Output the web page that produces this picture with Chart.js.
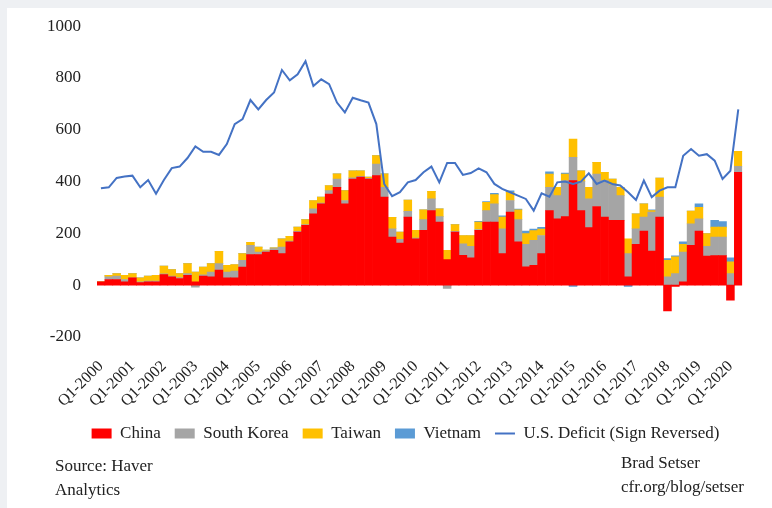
<!DOCTYPE html>
<html lang="en">
<head>
  <meta charset="UTF-8">
  <title>trade balance</title>
  <script src="https://cdn.jsdelivr.net/npm/chart.js"></script>
  <style>
    body { margin: 0; background: #eef0f3; }
    #card { position: absolute; left: 7px; top: 8px; right: 0; bottom: 0; background: #fff; }
    #chart { position: absolute; left: 0; top: 0; }
    .note { position: absolute; font: 17px "Liberation Serif", serif; line-height: 24px; color: #222; }
  </style>
</head>
<body>
  <div id="card"></div>
  <canvas id="chart" width="772" height="508"></canvas>
  <div class="note" style="left:55px; top:454px">Source: Haver<br>Analytics</div>
  <div class="note" style="left:621px; top:451px">Brad Setser<br>cfr.org/blog/setser</div>

  <script>
    const years = []
    for (let y = 2000; y <= 2020; y++) years.push(y)
    const quarters = []
    years.forEach(y => [1, 2, 3, 4].forEach(q => quarters.push(`Q${q}-${y}`)))
    quarters.length = 82 // through Q2-2020

    const yTicks = [-200, 0, 200, 400, 600, 800, 1000]

    const china = [
      13, 22, 22, 13, 28, 10, 13, 13, 41, 32, 26, 38, 13, 35, 32, 58, 28, 28, 70, 118,
      118, 128, 135, 122, 167, 205, 231, 276, 314, 352, 378, 314, 410, 417, 410, 423, 340, 186, 163, 263,
      179, 212, 288, 244, 99, 205, 115, 106, 212, 244, 244, 122, 282, 167, 71, 77, 122, 288, 256, 265,
      404, 288, 222, 304, 263, 250, 250, 32, 158, 209, 132, 263, -99, -5, 13, 154, 209, 112, 114, 114,
      -58, 436
    ]
    const southKorea = [
      0, 10, 13, 9, 0, 3, 3, 3, 3, 3, 3, 7, -8, 5, 19, 25, 23, 27, 26, 36,
      10, 5, 6, 25, 3, 3, 3, 19, 3, 13, 32, 13, 5, 3, 3, 45, 38, 32, 14, 22,
      3, 41, 45, 21, -12, 3, 45, 44, 3, 44, 70, 96, 45, 86, 87, 96, 70, 90, 90, 139,
      90, 112, 111, 125, 141, 138, 96, 90, 60, 54, 150, 77, 32, 45, 115, 83, 47, 38, 72, 72,
      45, 23
    ]
    const taiwan = [
      2, 6, 10, 16, 17, 15, 19, 22, 30, 25, 16, 38, 38, 30, 32, 48, 26, 25, 26, 12,
      19, 3, 3, 32, 19, 16, 19, 32, 23, 20, 20, 38, 27, 22, 4, 32, 52, 44, 28, 44,
      30, 38, 29, 30, 36, 26, 32, 42, 29, 32, 36, 45, 32, 38, 41, 38, 25, 51, 32, 25,
      70, 42, 45, 45, 32, 22, 32, 57, 58, 51, 6, 74, 64, 65, 30, 49, 45, 49, 38, 38,
      45, 58
    ]
    const vietnam = [
      0, 0, 0, 0, 0, 0, 0, 0, 0, 0, 0, 0, 0, 0, 0, 0, 0, 0, 0, 0,
      0, 0, 0, 0, 0, 0, 0, 0, 0, 0, 0, 0, 0, 0, 0, 0, 0, 0, 0, 0,
      0, 0, 0, 0, 0, 0, 0, 0, 3, 3, 5, 5, 5, 3, 10, 6, 6, 9, 0, 4,
      -5, 0, 0, 0, 0, 0, 0, -5, 0, 0, 3, 0, 7, 3, 9, 0, 13, 0, 26, 22,
      16, 0
    ]
    const usDeficit = [
      374, 378, 414, 420, 423, 378, 406, 353, 406, 452, 458, 491, 536, 515, 515, 503, 545, 622, 641, 715,
      679, 715, 744, 831, 791, 814, 865, 769, 795, 776, 705, 667, 724, 714, 705, 622, 391, 344, 359, 397,
      406, 436, 458, 397, 472, 472, 426, 433, 451, 436, 391, 372, 359, 346, 333, 288, 355, 342, 397, 400,
      391, 400, 432, 391, 404, 391, 385, 359, 329, 404, 340, 365, 378, 378, 500, 526, 500, 506, 481, 410,
      442, 679
    ]

    const serif = '"Liberation Serif", serif'
    const bar = (label, data, color) => ({
      type: 'bar', label, data, backgroundColor: color, borderWidth: 0,
      barPercentage: 1, categoryPercentage: 1, stack: 'exports', order: 1
    })

    // the original legend sits right of centre, nudge it over
    const shiftLegend = {
      id: 'shiftLegend',
      afterLayout(chart) { chart.legend.left += 62 }
    }

    new Chart(document.getElementById('chart'), {
      data: {
        labels: quarters,
        datasets: [
          bar('China', china, '#ff0000'),
          bar('South Korea', southKorea, '#a5a5a5'),
          bar('Taiwan', taiwan, '#ffc000'),
          bar('Vietnam', vietnam, '#5b9bd5'),
          {
            type: 'line', label: 'U.S. Deficit (Sign Reversed)', data: usDeficit,
            borderColor: '#4472c4', backgroundColor: '#4472c4', borderWidth: 2,
            pointRadius: 0, tension: 0, fill: false, stack: 'deficit', order: 0
          }
        ]
      },
      plugins: [shiftLegend],
      options: {
        responsive: false,
        animation: false,
        layout: { padding: { top: 25, right: 23, bottom: 56, left: 0 } },
        scales: {
          x: {
            stacked: true,
            grid: { display: false, drawTicks: false },
            border: { display: false },
            ticks: {
              autoSkip: false, minRotation: 45, maxRotation: 45, padding: 20,
              font: { family: serif, size: 16 }, color: '#222',
              callback: (v, i) => i % 4 === 0 ? quarters[i] : ''
            },
            afterFit: s => { s.height = 74 }
          },
          y: {
            stacked: true,
            min: yTicks[0], max: yTicks[yTicks.length - 1],
            afterBuildTicks: s => { s.ticks = yTicks.map(v => ({ value: v })) },
            grid: { display: false, drawTicks: false },
            border: { display: false },
            ticks: {
              padding: 16, font: { family: serif, size: 17 }, color: '#222',
              callback: v => String(v)
            },
            afterFit: s => { s.width = 97 }
          }
        },
        plugins: {
          tooltip: { enabled: false },
          legend: {
            position: 'bottom',
            labels: {
              font: { family: serif, size: 17 }, color: '#222',
              usePointStyle: true, pointStyleWidth: 20, boxHeight: 10, padding: 14,
              sort: (a, b) => a.datasetIndex - b.datasetIndex,
              generateLabels: chart => Chart.defaults.plugins.legend.labels.generateLabels(chart).map(l => {
                l.pointStyle = l.datasetIndex === 4 ? 'line' : 'rect'
                return l
              })
            }
          }
        }
      }
    })
  </script>
</body>
</html>
